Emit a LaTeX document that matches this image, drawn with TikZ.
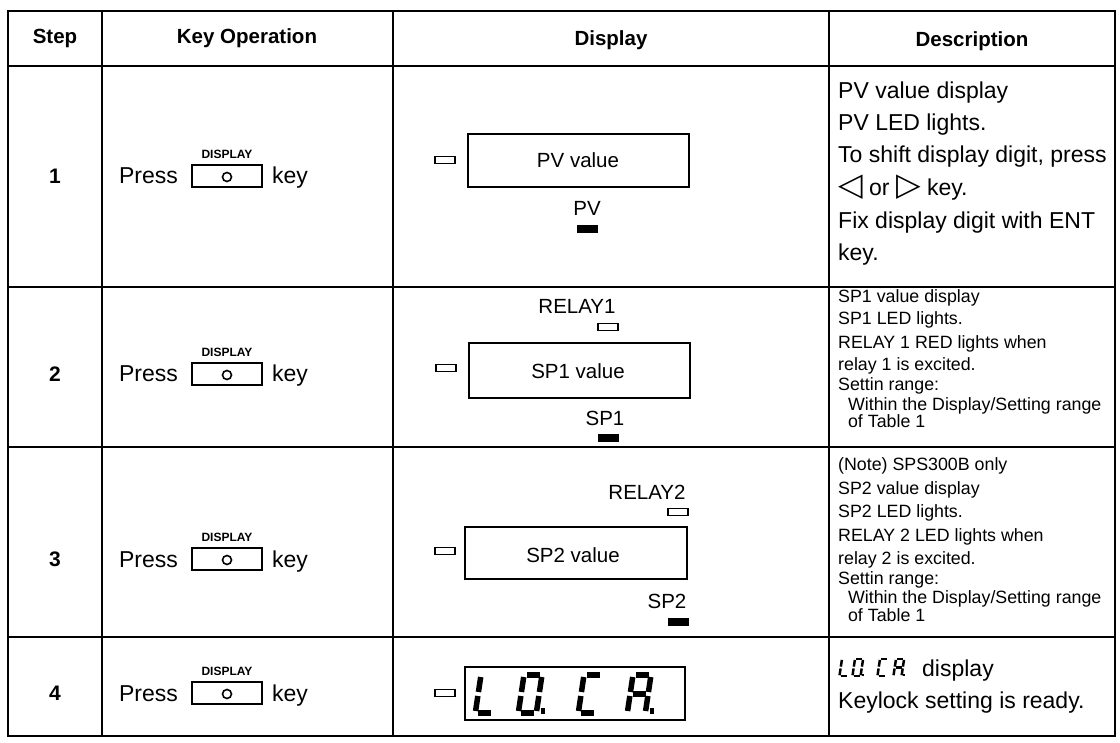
\documentclass[tikz,border=0pt]{standalone}
\usepackage{fontspec}
\setmainfont{Liberation Sans}
\newfontfamily\simbolos{DejaVu Sans}

\begin{document}
\begin{tikzpicture}[x=1pt,y=-1pt]
% estilos de linea y texto
\tikzstyle{linea} = [line width=1.6pt]
\tikzstyle{pantalla} = [line width=1.4pt]
\tikzstyle{ledoff} = [line width=1.2pt]
\tikzstyle{ledon} = [fill=black,draw=black]
\tikzstyle{seg} = [line cap=butt]
\tikzstyle{titulo} = [font=\fontsize{20.5}{24}\selectfont\bfseries]
\tikzstyle{paso} = [font=\fontsize{21}{24}\selectfont\bfseries]
\tikzstyle{texto} = [font=\fontsize{23}{28}\selectfont,inner sep=0pt]
\tikzstyle{chico} = [font=\fontsize{17.8}{20}\selectfont,inner sep=0pt,anchor=base west]
\tikzstyle{disptxt} = [font=\fontsize{20.5}{24}\selectfont,inner sep=0pt]
\tikzstyle{rotulo} = [font=\fontsize{12}{14}\selectfont\bfseries,inner sep=0pt]
\path[fill=white] (0,0) rectangle (1120,743);
\useasboundingbox (0,0) rectangle (1120,743);
% definicion tecla DISPLAY
% #1: centro de la tecla
% #2: nombre del rotulo
\newcommand{\tecla}[2]{
\coordinate (O) at #1;
\draw[pantalla] (O) ++(-35,-11) rectangle ++(70,22);
\draw[line width=1.6pt] (O) ++(0,1) circle (4.5);
\path (O) ++(0,-22) node[rotulo] (#2) {DISPLAY};
}
% definicion led
% #1: centro del led
% #2: estilo (ledoff, ledon)
\newcommand{\led}[2]{
\draw[#2] #1 ++(-10,-3.5) rectangle ++(20,7);
}
% definicion digito de siete segmentos
% #1: esquina superior izquierda
% #2: escala
% #3: segmentos encendidos (a-g, p: punto)
\newcommand{\digito}[3]{
\begin{scope}[shift={#1},scale=#2,xslant=0.15]
\coordinate (a1) at (3,0); \coordinate (a2) at (16,0);
\coordinate (b1) at (18,2); \coordinate (b2) at (18,17);
\coordinate (c1) at (18,21); \coordinate (c2) at (18,36);
\coordinate (d1) at (3,38); \coordinate (d2) at (16,38);
\coordinate (e1) at (0,21); \coordinate (e2) at (0,36);
\coordinate (f1) at (0,2); \coordinate (f2) at (0,17);
\coordinate (g1) at (3,19); \coordinate (g2) at (16,19);
\coordinate (p1) at (22,36); \coordinate (p2) at (26,36);
\foreach \s in {#3} \draw[seg,line width=#2*5.5pt] (\s1) -- (\s2);
\end{scope}
}
% dibujar tabla
\draw[linea] (8,11) rectangle (1115,736);
\foreach \y in {66,287,447,637} \draw[linea] (8,\y) -- (1115,\y);
\foreach \x in {102,393,829} \draw[linea] (\x,11) -- (\x,736);
% encabezados
\node[titulo] (hpaso) at (55,38) {Step};
\node[titulo] (htecla) at (247,38) {Key Operation};
\node[titulo] (hdisp) at (611,40) {Display};
\node[titulo] (hdesc) at (972,41) {Description};
% paso y operacion de tecla
\foreach \n/\y in {1/176,2/374,3/559,4/693}{
\node[paso] (paso\n) at (55,\y) {\n};
\node[texto,anchor=base east] (press\n) at (178,\y+8) {Press};
\tecla{(227,\y)}{disp\n}
\node[texto,anchor=base west] (key\n) at (272,\y+8) {key};
}
% dibujar pantallas
\begin{scope}
\led{(445,160)}{ledoff}
\draw[pantalla] (468,134) rectangle (689,187);
\node[disptxt] (pv) at (578,160) {PV value};
\node[disptxt] (lpv) at (587,208) {PV};
\led{(587,229)}{ledon}
\end{scope}
\begin{scope}
\node[disptxt] (relay1) at (577,306) {RELAY1};
\led{(608,327)}{ledoff}
\led{(446,368)}{ledoff}
\draw[pantalla] (469,343) rectangle (690,398);
\node[disptxt] (sp1) at (578,371) {SP1 value};
\node[disptxt] (lsp1) at (605,418) {SP1};
\led{(608,438)}{ledon}
\end{scope}
\begin{scope}
\node[disptxt] (relay2) at (647,492) {RELAY2};
\led{(678,512)}{ledoff}
\led{(445,551)}{ledoff}
\draw[pantalla] (465,527) rectangle (687,579);
\node[disptxt] (sp2) at (573,555) {SP2 value};
\node[disptxt] (lsp2) at (667,601) {SP2};
\led{(678,622)}{ledon}
\end{scope}
\begin{scope}
\led{(445,693)}{ledoff}
\draw[pantalla] (465,667) rectangle (685,720);
\digito{(481,675)}{1}{f,e,d}
\digito{(524,675)}{1}{a,b,c,d,e,f,p}
\digito{(584,675)}{1}{a,f,e,d}
\digito{(633,675)}{1}{a,f,e,g,b,c,p}
\end{scope}
% descripciones
\foreach \y/\t [count=\i] in {99/PV value display,131/PV LED lights.,
163/{To shift display digit, press},196/{{\simbolos\fontsize{32}{32}\selectfont ◁} or {\simbolos\fontsize{32}{32}\selectfont ▷} key.},
229/Fix display digit with ENT,261/key.}
\node[texto,anchor=base west] (desca\i) at (838,\y) {\t};
\foreach \y/\t [count=\i] in {303/SP1 value display,325/SP1 LED lights.,
349/RELAY 1 RED lights when,371/relay 1 is excited.,391/Settin range:,
410/{\ \ Within the Display/Setting range},428/{\ \ of Table 1}}
\node[chico] (descb\i) at (838,\y) {\t};
\foreach \y/\t [count=\i] in {471/(Note) SPS300B only,494/SP2 value display,
517/SP2 LED lights.,541/RELAY 2 LED lights when,564/relay 2 is excited.,
584/Settin range:,603/{\ \ Within the Display/Setting range},621/{\ \ of Table 1}}
\node[chico] (descc\i) at (838,\y) {\t};
\digito{(842,659)}{0.45}{f,e,d}
\digito{(855,659)}{0.45}{a,b,c,d,e,f,p}
\digito{(880,659)}{0.45}{a,f,e,d}
\digito{(896,659)}{0.45}{a,f,e,g,b,c,p}
\node[texto,anchor=base west] (descd1) at (922,676) {display};
\node[texto,anchor=base west] (descd2) at (838,708) {Keylock setting is ready.};
\end{tikzpicture}
\end{document}
